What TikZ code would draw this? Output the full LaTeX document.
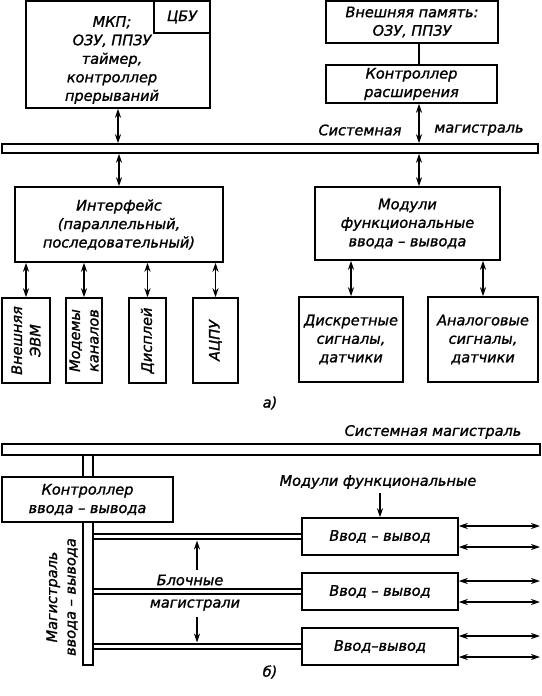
\documentclass[tikz,border=0pt]{standalone}
\usepackage{fontspec}
\setmainfont{DejaVu Sans}[ItalicFeatures={FakeBold=1.3}]
\usetikzlibrary{arrows.meta,calc}

\tikzset{
  bloc/.style={draw, line width=1.5pt, inner sep=0pt, align=center, fill=white},
  txt/.style={inner sep=0pt, align=center},
  fl/.style={{Stealth[length=9pt,width=6pt]}-{Stealth[length=9pt,width=6pt]}, line width=1.5pt},
  fl1/.style={-{Stealth[length=9pt,width=6pt]}, line width=1.5pt},
  dbus/.style={double, double distance=3.5pt, line width=1.3pt},
}

\begin{document}
\begin{tikzpicture}[x=1pt,y=1pt,font=\fontsize{14.5}{18.5}\selectfont\itshape]

    \useasboundingbox (0,0) rectangle (541,-696);

    % Colonnes
    \coordinate (xr) at (419,0);
    \coordinate (xb) at (197,0);
    \coordinate (rb) at (540,0);

    % Partie a : blocs du haut
    \node[bloc, minimum width=184, minimum height=107] (mkp) at (118,-54.5) {};
    \node[bloc, minimum width=56, minimum height=32, anchor=north east] (cbu) at (mkp.north east) {ЦБУ};
    \node[txt] (mkptxt) at (112,-60) {МКП;\\ОЗУ, ППЗУ\\таймер,\\контроллер\\прерываний};
    \node[bloc, minimum width=172, minimum height=42] (ext) at (412,-22) {Внешняя память:\\ОЗУ, ППЗУ};
    \node[bloc, minimum width=171, minimum height=38] (ctrl) at (411.5,-84) {Контроллер\\расширения};

    % Magistrale
    \node[bloc, minimum width=536, minimum height=9] (bus) at (270,-148.5) {};
    \node[txt] (sys1) at (360,-130) {Системная};
    \node[txt] (sys2) at (479,-130) {магистраль};

    % Partie a : blocs du milieu
    \node[bloc, minimum width=208, minimum height=75] (iface) at (119,-224.5) {Интерфейс\\(параллельный,\\последовательный)};
    \node[bloc, minimum width=185, minimum height=73] (mod) at (407.5,-223.5) {Модули\\функциональные\\ввода – вывода};

    % Partie a : blocs du bas
    \node[bloc, minimum width=48, minimum height=85] (evm) at (26,-340.5) {};
    \node[txt, rotate=90] (evmtxt) at (evm) {Внешняя\\ЭВМ};
    \node[bloc, minimum width=36, minimum height=85] (modem) at (84,-340.5) {};
    \node[txt, rotate=90] (modemtxt) at (modem) {Модемы\\каналов};
    \node[bloc, minimum width=37, minimum height=85] (disp) at (147.5,-340.5) {};
    \node[txt, rotate=90] (disptxt) at (disp) {Дисплей};
    \node[bloc, minimum width=45, minimum height=85] (acpu) at (215.5,-340.5) {};
    \node[txt, rotate=90] (acputxt) at (acpu) {АЦПУ};
    \node[bloc, minimum width=104, minimum height=85] (disc) at (351,-339.5) {Дискретные\\сигналы,\\датчики};
    \node[bloc, minimum width=110, minimum height=85] (anal) at (483,-339.5) {Аналоговые\\сигналы,\\датчики};
    \node[txt] (la) at (270,-403) {а)};

    % Partie a : fleches
    \draw[fl] (mkp.south) -- (mkp.south |- bus.north);
    \draw[fl] (bus.south -| iface.north) -- (iface.north);
    \draw[line width=1.5pt] (ext.south -| xr) -- (ctrl.north -| xr);
    \draw[fl] (ctrl.south -| xr) -- (bus.north -| xr);
    \draw[fl] (bus.south -| xr) -- (mod.north -| xr);
    \foreach \b in {evm,modem,disp,acpu}
      \draw[fl] (iface.south -| \b.north) -- (\b.north);
    \draw[fl] (mod.south -| disc.north) -- (disc.north);
    \draw[fl] (mod.south -| anal.north) -- (anal.north);

    % Partie b : magistrales
    \node[bloc, minimum width=538, minimum height=11] (bus2) at (271,-449.5) {};
    \node[txt] (sys3) at (433,-432) {Системная магистраль};
    \node[bloc, minimum width=10, minimum height=210] (vbus) at (88,-560) {};
    \node[bloc, minimum width=171, minimum height=45] (ctrlio) at (87.5,-499.5) {Контроллер\\ввода – вывода};
    \node[txt, rotate=90] (vlab) at (62,-597) {Магистраль\\ввода – вывода};

    % Partie b : modules
    \node[bloc, minimum width=156, minimum height=37] (io1) at (380,-536.5) {Ввод – вывод};
    \node[bloc, minimum width=156, minimum height=37] (io2) at (380,-591.5) {Ввод – вывод};
    \node[bloc, minimum width=156, minimum height=37] (io3) at (380,-646.5) {Ввод–вывод};
    \node[txt] (mf) at (378,-482) {Модули функциональные};
    \node[txt] (bl) at (190,-580) {Блочные};
    \node[txt] (mg) at (195,-605) {магистрали};
    \node[txt] (lb) at (270,-672) {б)};

    % Partie b : fleches
    \foreach \b in {io1,io2,io3}
      \draw[dbus] (vbus.east |- \b.west) -- (\b.west);
    \foreach \b in {io1,io2,io3}
      \foreach \d in {10.5,-10.5}
        \draw[fl] ($(\b.east)+(0,\d)$) -- ($(\b.east -| rb)+(0,\d)$);
    \draw[fl1] ($(mf.south -| io1.north)+(0,-4)$) -- (io1.north);
    \draw[fl1] ($(bl.north -| xb)+(0,4)$) -- ($(io1.west -| xb)+(0,-4)$);
    \draw[fl1] ($(mg.south -| xb)+(0,-6)$) -- ($(io3.west -| xb)+(0,4)$);

\end{tikzpicture}
\end{document}
